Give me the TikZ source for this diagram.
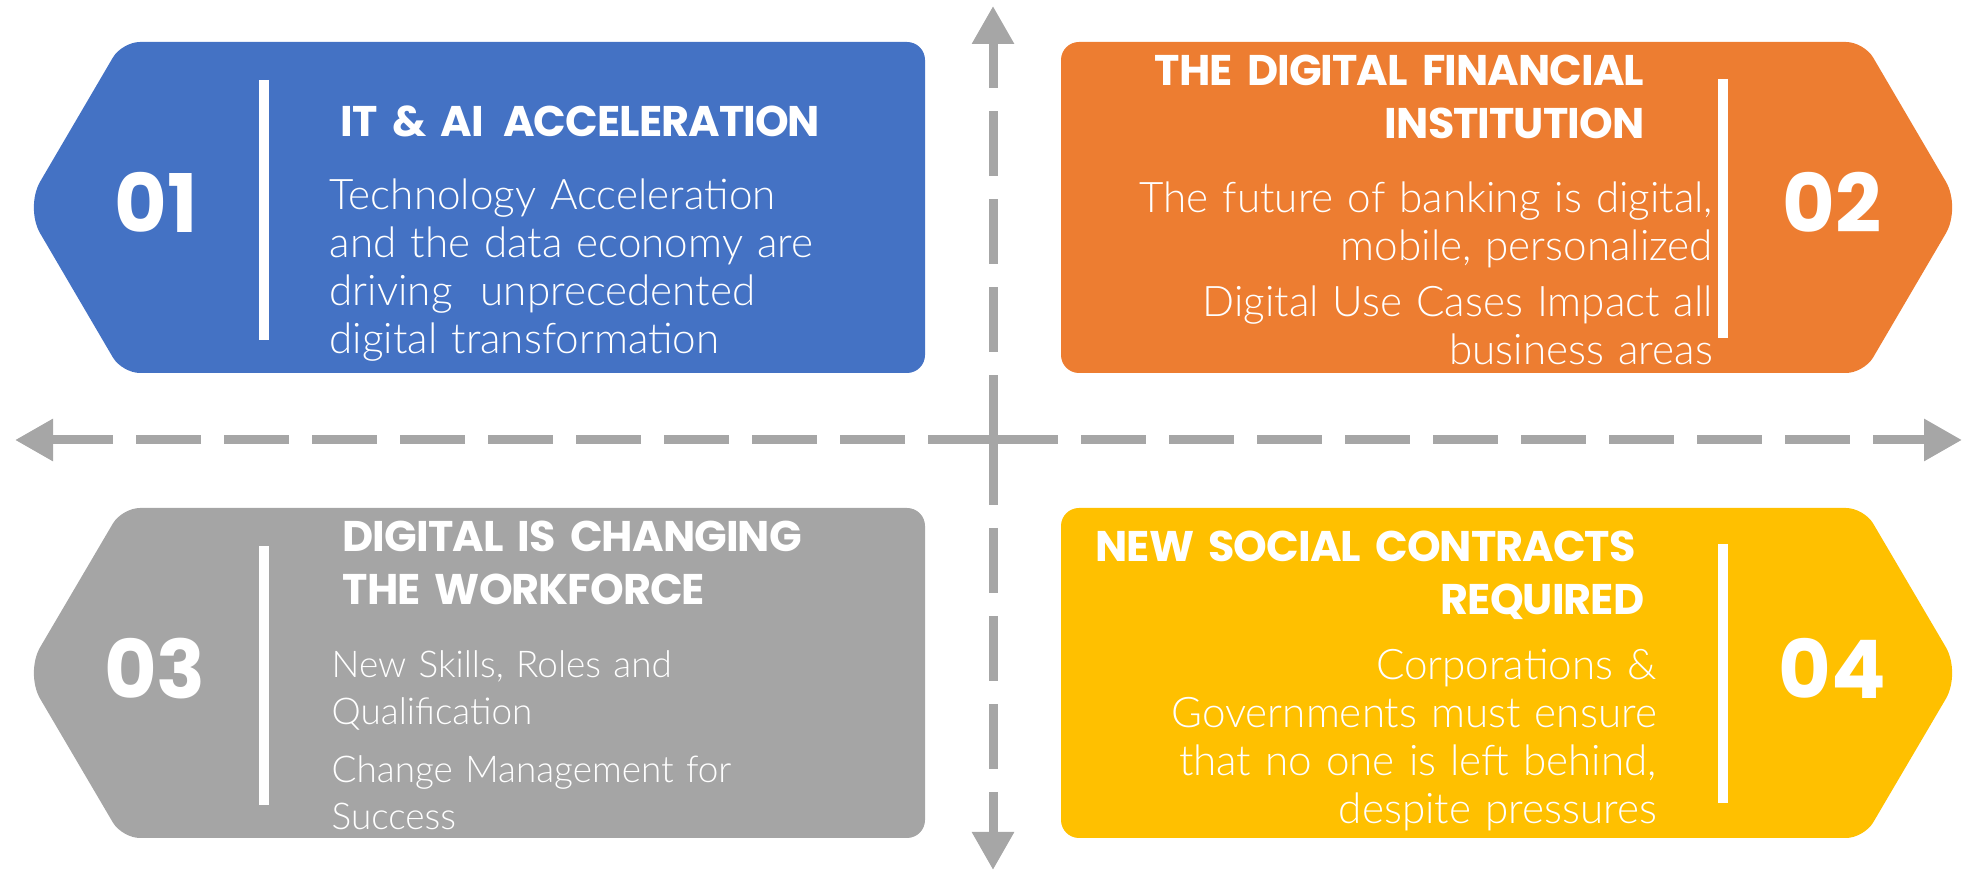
\documentclass[tikz,border=0pt]{standalone}
\usepackage{fontspec}
\usepackage{tikz}
\usetikzlibrary{arrows.meta}
\newfontfamily\headfont{Poppins}
\newfontfamily\titlefont{Poppins}[LetterSpace=-2.2]
\newfontfamily\bodyfont{Lato Light}
\definecolor{boxblue}{HTML}{4472C4}
\definecolor{boxorange}{HTML}{ED7D31}
\definecolor{boxgray}{HTML}{A5A5A5}
\definecolor{boxyellow}{HTML}{FFC000}
\definecolor{axisgray}{HTML}{A6A6A6}

\begin{document}
\begin{tikzpicture}[
  my axis/.style={
    draw=axisgray, line width=0.09cm,
    dash pattern=on 0.65cm off 0.23cm,
    -{Triangle[length=0.38cm,width=0.4cm]},
  },
  my bar/.style={draw=white, line width=0.1cm},
  my number/.style={text=white, font=\headfont\bfseries\fontsize{23}{23}\selectfont},
  my title/.style={text=white, inner sep=0, text width=7cm, font=\titlefont\bfseries\fontsize{12.2}{14.8}\selectfont},
  my text/.style={text=white, inner sep=0, text width=7cm, font=\bodyfont\fontsize{12}{13.6}\selectfont},
  ]
  \useasboundingbox (0,0) rectangle (19.69,8.75);
  \coordinate (O) at (9.93,4.35);
  \coordinate (N) at (9.93,8.69);
  \coordinate (S) at (9.93,0.05);
  \coordinate (W) at (0.15,4.35);
  \coordinate (E) at (19.62,4.35);
  \draw[my axis] (O) -- (N);
  \draw[my axis] (O) -- (S);
  \draw[my axis] (O) -- (W);
  \draw[my axis] (O) -- (E);
  \fill[boxblue, rounded corners=0.18cm] (5,8.33) -- (9.25,8.33) -- (9.25,5.02) -- (1.22,5.02) [rounded corners=0.3cm] -- (0.25,6.675) [rounded corners=0.18cm] -- (1.22,8.33) -- cycle;
  \fill[boxorange, rounded corners=0.18cm] (15,8.33) -- (18.64,8.33) [rounded corners=0.3cm] -- (19.61,6.675) [rounded corners=0.18cm] -- (18.64,5.02) -- (10.61,5.02) -- (10.61,8.33) -- cycle;
  \fill[boxgray, rounded corners=0.18cm] (5,3.67) -- (9.25,3.67) -- (9.25,0.37) -- (1.22,0.37) [rounded corners=0.3cm] -- (0.25,2.02) [rounded corners=0.18cm] -- (1.22,3.67) -- cycle;
  \fill[boxyellow, rounded corners=0.18cm] (15,3.67) -- (18.64,3.67) [rounded corners=0.3cm] -- (19.61,2.02) [rounded corners=0.18cm] -- (18.64,0.37) -- (10.61,0.37) -- (10.61,3.67) -- cycle;
  \draw[my bar] (2.64,7.95) -- (2.64,5.35);
  \draw[my bar] (17.23,7.96) -- (17.23,5.37);
  \draw[my bar] (2.64,3.29) -- (2.64,0.70);
  \draw[my bar] (17.23,3.31) -- (17.23,0.72);
  \node[my number] (D1) at (1.56,6.73) {01};
  \node[my number] (D2) at (18.32,6.73) {02};
  \node[my number] (D3) at (1.55,2.06) {03};
  \node[my number] (D4) at (18.32,2.07) {04};
  \node[my title, anchor=base west, align=left] (T1) at (3.40,7.38) {IT \& AI\hspace{0.12em} ACCELERATION};
  \node[my title, anchor=base east, align=right] (T2) at (16.45,7.89) {THE DIGITAL FINANCIAL\\INSTITUTION};
  \node[my title, anchor=base west, align=left] (T3) at (3.42,3.23) {DIGITAL IS CHANGING\\THE WORKFORCE};
  \node[my title, anchor=base east, align=right] (T4) at (16.45,3.13) {NEW SOCIAL CONTRACTS\kern0.2em\\REQUIRED};
  \node[my text, anchor=base west, align=left] (P1) at (3.29,6.65) {Technology Acceleration\\and the data economy are\\driving\ \ unprecedented\\digital transformation};
  \node[my text, anchor=base east, align=right] (P2) at (17.135,6.62) {The future of banking is digital,\\mobile, personalized\\[0.8mm]Digital Use Cases Impact all\\business areas};
  \node[my text, anchor=base west, align=left, font=\bodyfont\fontsize{10.5}{13.3}\selectfont] (P3) at (3.31,1.97) {New Skills, Roles and\\Qualification\\[1.1mm]Change Management for\\Success};
  \node[my text, anchor=base east, align=right] (P4) at (16.575,1.95) {Corporations \&\\Governments must ensure\\that no one is left behind,\\despite pressures};
\end{tikzpicture}
\end{document}
